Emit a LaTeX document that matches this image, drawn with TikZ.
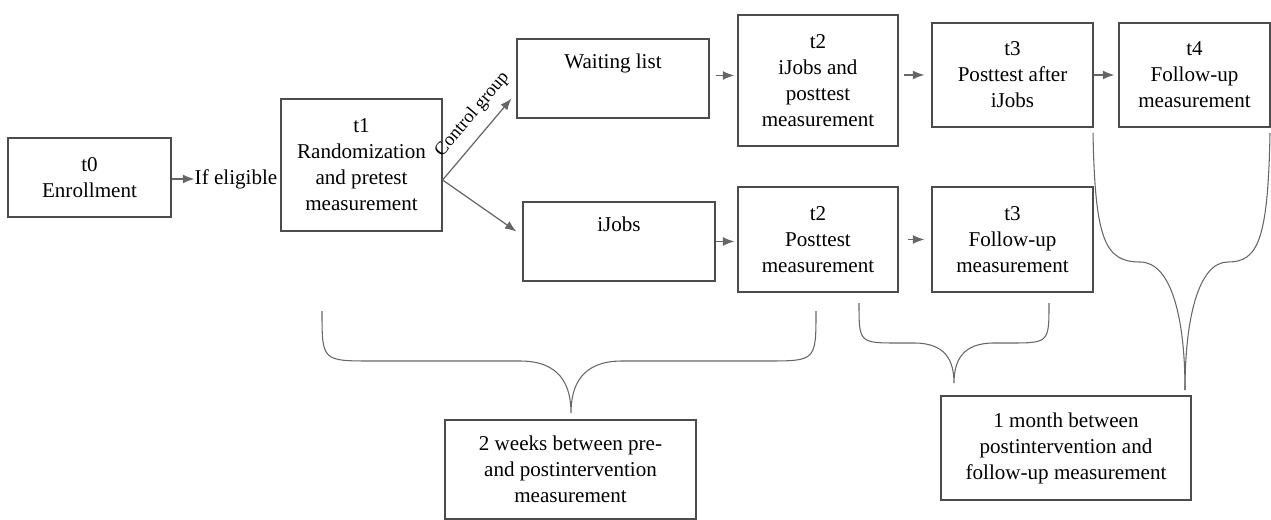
\documentclass[tikz,border=0pt]{standalone}
\usepackage{fontspec}
\setmainfont{Liberation Serif}
\usetikzlibrary{arrows.meta,calc}

\tikzset{
  box/.style={draw=black!70, line width=0.7pt, align=center, inner sep=2pt,
    font=\fontsize{12}{14.8}\selectfont},
  arr/.style={draw=black!60, line width=0.7pt, -{Latex[length=6.5pt,width=5pt]}},
  curly/.style={draw=black!60, line width=0.6pt},
}

\begin{document}
\begin{tikzpicture}[x=0.02cm, y=-0.02cm]
\useasboundingbox (0,0) rectangle (1271,520);

% Start
\node[box, minimum width=3.26cm, minimum height=1.58cm] (t0) at (89.5,177.5) {t0\\Enrollment};
\node[inner sep=0pt, font=\fontsize{12}{14.8}\selectfont] (elig) at (236,179) {If eligible};
\node[box, minimum width=3.22cm, minimum height=2.64cm] (t1) at (361.5,165) {t1\\Randomization\\and pretest\\measurement};
\draw[arr] (t0.east |- elig) -- (elig.west);
\coordinate (split) at ($(t1.east)+(0,15)$);

% Control group (upper row)
\node[box, minimum width=3.84cm, minimum height=1.58cm] (wait) at (613,78.5) {Waiting list\\\strut};
\node[box, minimum width=3.2cm, minimum height=2.62cm] (t2a) at (818,80.5) {t2\\iJobs and\\posttest\\measurement};
\node[box, minimum width=3.22cm, minimum height=2.08cm] (t3a) at (1012.5,75) {t3\\Posttest after\\iJobs};
\node[box, minimum width=3.02cm, minimum height=2.08cm] (t4) at (1194.5,75) {t4\\Follow-up\\measurement};

% Intervention group (lower row)
\node[box, minimum width=3.84cm, minimum height=1.58cm] (ijobs) at (619,241.5) {iJobs\\\strut};
\node[box, minimum width=3.2cm, minimum height=2.1cm] (t2b) at (818,239.5) {t2\\Posttest\\measurement};
\node[box, minimum width=3.22cm, minimum height=2.1cm] (t3b) at (1012.5,239.5) {t3\\Follow-up\\measurement};

% Arrows
\draw[arr] (split) -- node[sloped, above=5pt, pos=0.65, inner sep=1pt, font=\fontsize{10.5}{12}\selectfont] {Control group} ($(wait.south west)+(-5,-20)$);
\draw[arr] (split) -- ($(ijobs.west)+(-6,-10)$);
\draw[arr] ($(wait.east)+(6,-3)$) -- ($(wait.east -| t2a.west)+(-3,-3)$);
\draw[arr] (ijobs.east) -- ($(ijobs.east -| t2b.west)+(-3,0)$);
\draw[arr] ($(t3a.west)+(-27,0)$) -- ($(t3a.west)+(-7,0)$);
\draw[arr] ($(t3b.west)+(-23,0)$) -- ($(t3b.west)+(-7,0)$);
\draw[arr] (t3a.east) -- ($(t4.west)+(-4,0)$);

% Time spans
\node[box, minimum width=5.02cm, minimum height=1.98cm] (weeks) at (570.5,469.5) {2 weeks between pre-\\and postintervention\\measurement};
\node[box, minimum width=5.0cm, minimum height=2.08cm] (month) at (1066,448) {1 month between\\postintervention and\\follow-up measurement};

% Braces
\draw[curly] (322,311) .. controls (322,361) .. (372,361) -- (520,361)
  .. controls (560,361) and (571,385) .. (571,413)
  .. controls (571,385) and (582,361) .. (622,361) -- (766,361)
  .. controls (816,361) .. (816,311);
\draw[curly] (859,303) .. controls (859,343) .. (899,343) -- (914,343)
  .. controls (945,343) and (954,360) .. (954,383)
  .. controls (954,360) and (963,343) .. (994,343) -- (1009,343)
  .. controls (1049,343) .. (1049,303);
\draw[curly] (1093,133) .. controls (1095,240) and (1105,262) .. (1140,262)
  .. controls (1172,262) and (1185,320) .. (1185,390);
\draw[curly] (1270,133) .. controls (1268,240) and (1258,262) .. (1228,262)
  .. controls (1198,262) and (1185,320) .. (1185,390);
\end{tikzpicture}
\end{document}
